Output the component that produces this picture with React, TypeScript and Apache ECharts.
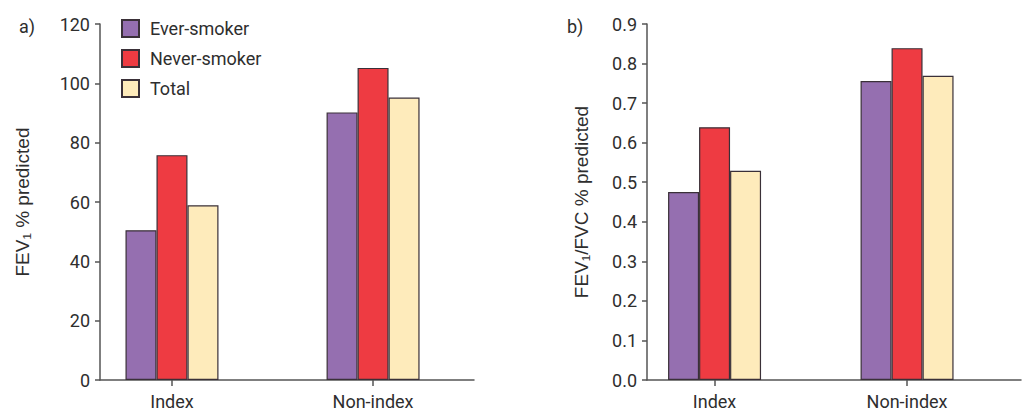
import React, { useEffect, useRef } from "react";
import * as echarts from "echarts";

const categories = ["Index", "Non-index"];
const seriesNames = ["Ever-smoker", "Never-smoker", "Total"];
const colors = ["#956fb0", "#ee3b42", "#feebbb"];
const fev1Ever = [50.5, 90.2];
const fev1Never = [75.8, 105.2];
const fev1Total = [58.9, 95.2];
const ratioEver = [0.475, 0.756];
const ratioNever = [0.639, 0.839];
const ratioTotal = [0.529, 0.769];
const leftTicks = [0, 20, 40, 60, 80, 100, 120];
const rightTicks = [0, 0.1, 0.2, 0.3, 0.4, 0.5, 0.6, 0.7, 0.8, 0.9];

const FONT = "Roboto";
const TXT = "#2e2e2e";
const AXIS = "#555555";

function pairs(vals: number[]) {
  return vals.map((v, i) => [i, v]);
}

export default function App() {
  const ref = useRef<HTMLDivElement>(null);
  useEffect(() => {
    document.body.style.margin = "0";
    if (!ref.current) return;
    const chart = echarts.init(ref.current, undefined, { renderer: "svg" });
    const xAxisBase = (min: number, max: number, gridIndex: number) => ({
      type: "value",
      gridIndex,
      min,
      max,
      position: "bottom",
      splitLine: { show: false },
      axisLine: { onZero: false, lineStyle: { color: AXIS, width: 1.5 } },
      axisTick: { customValues: [0, 1], length: 6, lineStyle: { color: AXIS, width: 1.5 } },
      axisLabel: {
        customValues: [0, 1],
        formatter: (v: number) => categories[Math.round(v)] ?? "",
        color: TXT,
        fontFamily: FONT,
        fontSize: 18,
        lineHeight: 18,
        margin: 12,
      },
    });
    const yAxisBase = (
      gridIndex: number,
      max: number,
      interval: number,
      name: string,
      nameGap: number,
      fmt: (v: number) => string
    ) => ({
      type: "value",
      gridIndex,
      min: 0,
      max,
      interval,
      name,
      nameLocation: "middle",
      nameGap,
      nameRotate: 90,
      nameTextStyle: { color: TXT, fontFamily: "Liberation Sans", fontSize: 19 },
      splitLine: { show: false },
      axisLine: { show: true, onZero: false, lineStyle: { color: AXIS, width: 1.5 } },
      axisTick: { show: true, length: 5, lineStyle: { color: AXIS, width: 1.5 } },
      axisLabel: { color: TXT, fontFamily: FONT, fontSize: 18, margin: 10, formatter: fmt },
    });
    const bar = (name: string, data: number[], idx: number, color: string) => ({
      type: "bar",
      name,
      xAxisIndex: idx,
      yAxisIndex: idx,
      data: pairs(data),
      barWidth: 31,
      barGap: "0%",
      itemStyle: { color, borderColor: "#3a3038", borderWidth: 1.2 },
    });
    chart.setOption({
      animation: false,
      backgroundColor: "#ffffff",
      title: [
        { text: "a)", left: 14, top: 12, textStyle: { color: TXT, fontFamily: FONT, fontSize: 18, fontWeight: "normal" } },
        { text: "b)", left: 562, top: 12, textStyle: { color: TXT, fontFamily: FONT, fontSize: 18, fontWeight: "normal" } },
      ],
      legend: {
        orient: "vertical",
        left: 116,
        top: 14,
        itemWidth: 17,
        itemHeight: 17,
        itemGap: 11,
        icon: "rect",
        data: seriesNames,
        textStyle: { color: TXT, fontFamily: FONT, fontSize: 18, padding: [0, 0, 0, 6] },
      },
      grid: [
        { left: 100, top: 24, width: 374, bottom: 32 },
        { left: 647, top: 24, width: 374, bottom: 32 },
      ],
      xAxis: [xAxisBase(-0.358, 1.502, 0), xAxisBase(-0.351, 1.592, 1)],
      yAxis: [
        yAxisBase(0, leftTicks[leftTicks.length - 1], 20, "FEV\u2081 % predicted", 68, (v: number) => String(v)),
        yAxisBase(1, rightTicks[rightTicks.length - 1], 0.1, "FEV\u2081/FVC % predicted", 56, (v: number) => v.toFixed(1)),
      ],
      series: [
        bar(seriesNames[0], fev1Ever, 0, colors[0]),
        bar(seriesNames[1], fev1Never, 0, colors[1]),
        bar(seriesNames[2], fev1Total, 0, colors[2]),
        bar(seriesNames[0], ratioEver, 1, colors[0]),
        bar(seriesNames[1], ratioNever, 1, colors[1]),
        bar(seriesNames[2], ratioTotal, 1, colors[2]),
      ],
    });
    return () => chart.dispose();
  }, []);
  return <div ref={ref} style={{ width: 1025, height: 412 }} />;
}
